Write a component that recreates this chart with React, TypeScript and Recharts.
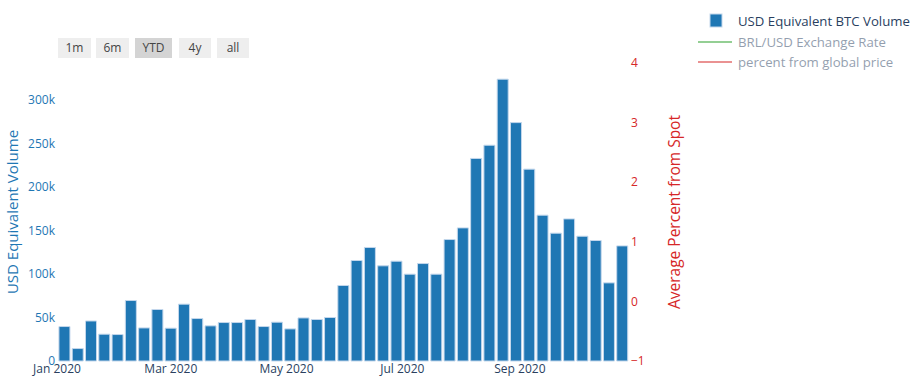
import { ComposedChart, Bar, Line, XAxis, YAxis } from "recharts";

const weeks = [
  "2020-01-05", "2020-01-12", "2020-01-19", "2020-01-26",
  "2020-02-02", "2020-02-09", "2020-02-16", "2020-02-23",
  "2020-03-01", "2020-03-08", "2020-03-15", "2020-03-22", "2020-03-29",
  "2020-04-05", "2020-04-12", "2020-04-19", "2020-04-26",
  "2020-05-03", "2020-05-10", "2020-05-17", "2020-05-24", "2020-05-31",
  "2020-06-07", "2020-06-14", "2020-06-21", "2020-06-28",
  "2020-07-05", "2020-07-12", "2020-07-19", "2020-07-26",
  "2020-08-02", "2020-08-09", "2020-08-16", "2020-08-23", "2020-08-30",
  "2020-09-06", "2020-09-13", "2020-09-20", "2020-09-27",
  "2020-10-04", "2020-10-11", "2020-10-18", "2020-10-25",
];

const usdVolume = [
  39600, 14300, 46000, 30800, 30400, 69500, 38000, 59200, 37700, 65300,
  48800, 40400, 44200, 44200, 47700, 39600, 44600, 36900, 49500, 47700,
  50000, 86800, 115500, 130500, 109400, 114700, 99800, 112000, 99800, 139600,
  153000, 232800, 248000, 323900, 274000, 220500, 167600, 146900, 163300, 143400,
  138500, 89800, 132300,
];

const xTicks = ["2020-01-01", "2020-03-01", "2020-05-01", "2020-07-01", "2020-09-01"];
const leftTicks = [0, 50000, 100000, 150000, 200000, 250000, 300000];
const rightTicks = [-1, 0, 1, 2, 3, 4];
const rangeButtons = ["1m", "6m", "YTD", "4y", "all"];
const months = ["Jan", "Feb", "Mar", "Apr", "May", "Jun", "Jul", "Aug", "Sep", "Oct", "Nov", "Dec"];

const toTime = (s: string) => Date.parse(s + "T00:00:00Z");

// percent series is hidden (legend only) in the original, so it carries no values
const data = weeks.map((w, i) => ({ t: toTime(w), volume: usdVolume[i], pct: null }));

const xMin = toTime("2020-01-01");
const xMax = toTime("2020-10-28") + 12 * 3600 * 1000;

const fmtDate = (v: number) => {
  const d = new Date(v);
  return months[d.getUTCMonth()] + " " + d.getUTCFullYear();
};

const FONT = "'Open Sans', sans-serif";
const TEXT = "#2a3f5f";
const BLUE = "#1f77b4";
const RED = "#d62728";

const buttonPos = [
  { left: 58, width: 33 },
  { left: 96, width: 33 },
  { left: 135, width: 37 },
  { left: 179, width: 32 },
  { left: 217, width: 32 },
];

export default function App() {
  return (
    <div style={{ position: "absolute", left: 0, top: 0, width: 919, height: 389, background: "#fff", fontFamily: FONT }}>
      <ComposedChart
        width={919}
        height={389}
        data={data}
        margin={{ top: 63, right: 250, bottom: 8, left: 0 }}
        style={{ fontFamily: FONT }}
      >
        <XAxis
          dataKey="t"
          type="number"
          scale="time"
          domain={[xMin, xMax]}
          ticks={xTicks.map(toTime)}
          tickFormatter={fmtDate}
          interval={0}
          axisLine={false}
          tickLine={false}
          tickSize={0}
          tickMargin={3}
          height={20}
          tick={{ fill: TEXT, fontSize: 12 }}
        />
        <YAxis
          yAxisId="left"
          width={57}
          domain={[0, 342500]}
          ticks={leftTicks}
          tickFormatter={(v: number) => (v === 0 ? "0" : v / 1000 + "k")}
          axisLine={false}
          tickLine={false}
          tickSize={0}
          tickMargin={2}
          tick={{ fill: BLUE, fontSize: 12 }}
          label={{
            position: "center",
            content: () => (
              <text
                x={11.5}
                y={212}
                transform="rotate(-90 11.5 212)"
                textAnchor="middle"
                dominantBaseline="central"
                fill={BLUE}
                fontSize={15}
              >
                USD Equivalent Volume
              </text>
            ),
          }}
        />
        <YAxis
          yAxisId="right"
          orientation="right"
          width={40}
          type="number"
          domain={[-1, 4]}
          allowDataOverflow
          ticks={rightTicks}
          tickFormatter={(v: number) => String(v).replace("-", "\u2212")}
          axisLine={false}
          tickLine={false}
          tickSize={0}
          tickMargin={2}
          tick={{ fill: RED, fontSize: 12, textAnchor: "start" }}
          label={{
            position: "center",
            content: () => (
              <text
                x={674}
                y={212}
                transform="rotate(-90 674 212)"
                textAnchor="middle"
                dominantBaseline="central"
                fill={RED}
                fontSize={15.5}
              >
                Average Percent from Spot
              </text>
            ),
          }}
        />
        <Bar
          yAxisId="left"
          dataKey="volume"
          name="USD Equivalent BTC Volume"
          fill={BLUE}
          stroke="#c3d7ec"
          strokeWidth={1}
          barSize={11}
          isAnimationActive={false}
        />
        <Line
          yAxisId="right"
          dataKey="pct"
          name="percent from global price"
          stroke={RED}
          dot={false}
          legendType="none"
          isAnimationActive={false}
        />
      </ComposedChart>

      {rangeButtons.map((b, i) => (
        <div
          key={b}
          style={{
            position: "absolute",
            left: buttonPos[i].left,
            top: 38,
            width: buttonPos[i].width,
            height: 20,
            background: b === "YTD" ? "#d4d4d4" : "#eeeeee",
            color: "#444",
            fontSize: 12,
            lineHeight: "20px",
            textAlign: "center",
          }}
        >
          {b}
        </div>
      ))}

      <div style={{ position: "absolute", left: 696, top: 11, fontSize: 13.2, color: TEXT, lineHeight: "20.5px" }}>
        <div style={{ display: "flex", alignItems: "center" }}>
          <svg width={42} height={20}>
            <rect x={14} y={3} width={12} height={13} fill={BLUE} stroke="#c3d7ec" strokeWidth={1} />
          </svg>
          <span>USD Equivalent BTC Volume</span>
        </div>
        <div style={{ display: "flex", alignItems: "center", opacity: 0.5 }}>
          <svg width={42} height={20}>
            <line x1={2} x2={36} y1={10} y2={10} stroke="#2ca02c" strokeWidth={2} />
          </svg>
          <span>BRL/USD Exchange Rate</span>
        </div>
        <div style={{ display: "flex", alignItems: "center", opacity: 0.5 }}>
          <svg width={42} height={20}>
            <line x1={2} x2={36} y1={10} y2={10} stroke={RED} strokeWidth={2} />
          </svg>
          <span>percent from global price</span>
        </div>
      </div>
    </div>
  );
}
